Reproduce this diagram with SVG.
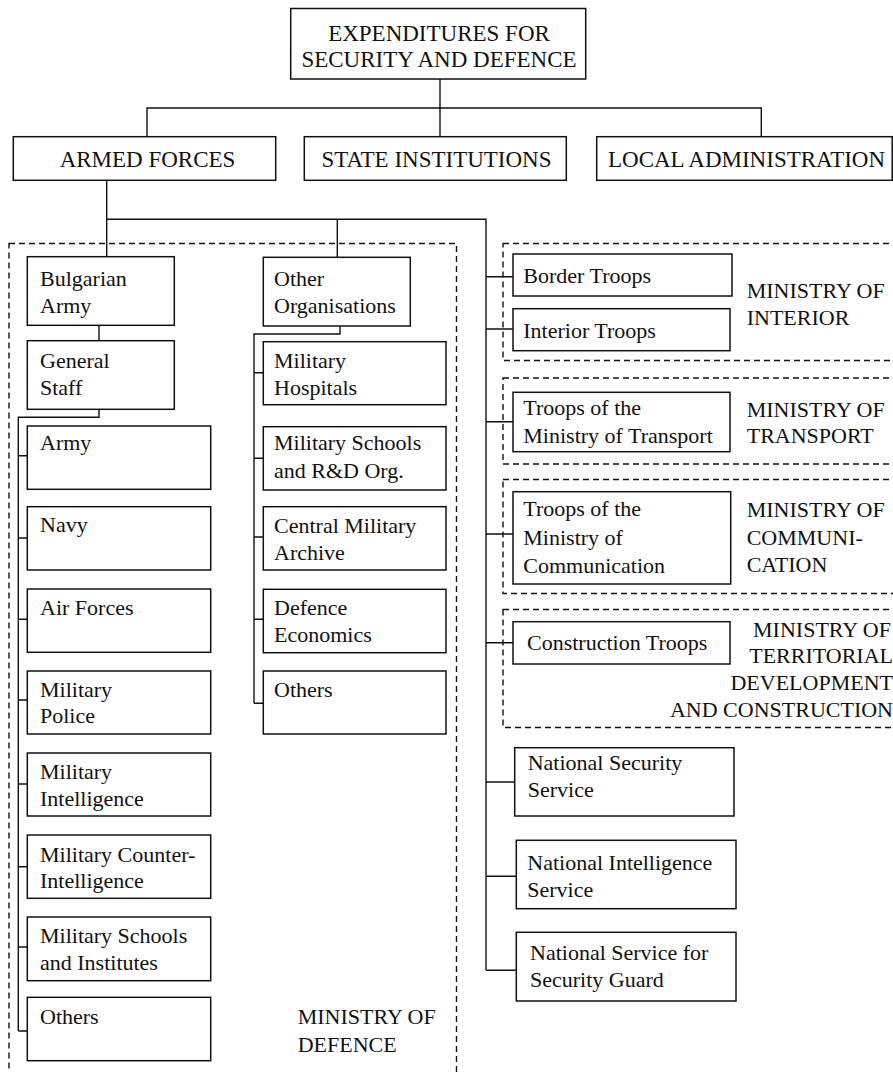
<svg xmlns="http://www.w3.org/2000/svg" width="893" height="1072" viewBox="0 0 893 1072">
<style>
  .box { fill: #fff; stroke: #111; stroke-width: 1.5; }
  .grp { fill: none; stroke: #111; stroke-width: 1.4; stroke-dasharray: 6 4; }
  .ln { fill: none; stroke: #111; stroke-width: 1.4; }
  text { font-family: "Liberation Serif", "Times New Roman", serif; font-size: 22px; fill: #111; }
  .big { font-size: 23px; }
  .c { text-anchor: middle; }
  .e { text-anchor: end; }
</style>
<rect width="893" height="1072" fill="#fff"/>

<!-- ministry groupings -->
<g id="groups">
  <rect class="grp" x="9" y="243.5" width="447.5" height="840"/>
  <rect class="grp" x="503" y="243.5" width="400" height="117"/>
  <rect class="grp" x="503" y="378" width="400" height="86"/>
  <rect class="grp" x="503" y="479.5" width="400" height="114"/>
  <rect class="grp" x="503" y="609.5" width="400" height="118"/>
</g>

<g id="connectors">
  <path class="ln" d="M440 79 V136.7 M147 136.7 V108 H761.3 V136.7"/>
  <path class="ln" d="M106.7 180.3 V256.7 M106.7 219.3 H486 V970.3 M337.3 219.3 V257.3"/>
  <path class="ln" d="M99 325.3 V340.7"/>
  <path class="ln" d="M99 409.3 V417.3 H18.3 V1031"/>
  <path class="ln" d="M18.3 455.7 H27.3 M18.3 538 H27.3 M18.3 619.3 H27.3 M18.3 700 H27.3 M18.3 784 H27.3 M18.3 866.7 H27.3 M18.3 947 H27.3 M18.3 1031 H27.3"/>
  <path class="ln" d="M340 326 V334 H254 V703.3"/>
  <path class="ln" d="M254 372.7 H263.3 M254 458.3 H263.3 M254 537 H263.3 M254 619.3 H263.3 M254 703.3 H263.3"/>
  <path class="ln" d="M486 276.7 H513 M486 329 H513 M486 421.7 H513 M486 534 H513 M486 642.7 H513 M486 782 H514.7 M486 876.3 H516.3 M486 970.3 H516.3"/>
</g>

<g id="n-root"><rect class="box" x="290.7" y="8.5" width="295" height="70.5"/><text class="c big" x="439" y="40.7">EXPENDITURES FOR</text><text class="c big" x="439" y="66.7">SECURITY AND DEFENCE</text></g>
<g id="n-armed"><rect class="box" x="13.3" y="136.7" width="262.4" height="43.6"/><text class="c big" x="147.5" y="166.7">ARMED FORCES</text></g>
<g id="n-state"><rect class="box" x="304.3" y="136.7" width="262" height="43.6"/><text class="c big" x="436.5" y="166.7">STATE INSTITUTIONS</text></g>
<g id="n-local"><rect class="box" x="596.7" y="136.7" width="295.5" height="43.6"/><text class="big" x="608" y="166.7">LOCAL ADMINISTRATION</text></g>

<g id="n-bulgarian-army"><rect class="box" x="27.3" y="256.7" width="147" height="68.6"/><text x="40" y="286">Bulgarian</text><text x="40" y="313.3">Army</text></g>
<g id="n-general-staff"><rect class="box" x="27.3" y="340.7" width="147" height="68.6"/><text x="40" y="367.7">General</text><text x="40" y="395">Staff</text></g>

<g id="n-army"><rect class="box" x="27.3" y="426" width="183.4" height="63.3"/><text x="40" y="450">Army</text></g>
<g id="n-navy"><rect class="box" x="27.3" y="506.7" width="183.4" height="63.3"/><text x="40" y="532.3">Navy</text></g>
<g id="n-air"><rect class="box" x="27.3" y="589" width="183.4" height="63.3"/><text x="40" y="615">Air Forces</text></g>
<g id="n-police"><rect class="box" x="27.3" y="671" width="183.4" height="63"/><text x="40" y="696.7">Military</text><text x="40" y="723.3">Police</text></g>
<g id="n-intel"><rect class="box" x="27.3" y="753" width="183.4" height="63"/><text x="40" y="779.3">Military</text><text x="40" y="805.7">Intelligence</text></g>
<g id="n-counter"><rect class="box" x="27.3" y="835" width="183.4" height="63.3"/><text x="40" y="861.7">Military Counter-</text><text x="40" y="888.3">Intelligence</text></g>
<g id="n-schools"><rect class="box" x="27.3" y="917" width="183.4" height="63.7"/><text x="40" y="943.3">Military Schools</text><text x="40" y="970">and Institutes</text></g>
<g id="n-others-left"><rect class="box" x="27.3" y="997.3" width="183.4" height="63.4"/><text x="40" y="1024">Others</text></g>

<g id="n-other-org"><rect class="box" x="263.3" y="257.3" width="147" height="68.7"/><text x="274" y="286">Other</text><text x="274" y="313.3">Organisations</text></g>
<g id="n-hospitals"><rect class="box" x="263.3" y="341.7" width="182.7" height="63"/><text x="274" y="368.3">Military</text><text x="274" y="395">Hospitals</text></g>
<g id="n-rd"><rect class="box" x="263.3" y="426.7" width="182.7" height="63.3"/><text x="274" y="450">Military Schools</text><text x="274" y="478.3">and R&amp;D Org.</text></g>
<g id="n-archive"><rect class="box" x="263.3" y="506.7" width="182.7" height="63.3"/><text x="274" y="533.3">Central Military</text><text x="274" y="560">Archive</text></g>
<g id="n-economics"><rect class="box" x="263.3" y="589.3" width="182.7" height="63.4"/><text x="274" y="615">Defence</text><text x="274" y="641.7">Economics</text></g>
<g id="n-others-mid"><rect class="box" x="263.3" y="671" width="182.7" height="63"/><text x="274" y="696.7">Others</text></g>

<g id="n-border"><rect class="box" x="513" y="254" width="219" height="42"/><text x="523.3" y="283.3">Border Troops</text></g>
<g id="n-interior"><rect class="box" x="513" y="308.7" width="217" height="42"/><text x="523.3" y="338.3">Interior Troops</text></g>
<g id="n-transport"><rect class="box" x="513" y="392.3" width="217" height="59.4"/><text x="523.3" y="415">Troops of the</text><text x="523.3" y="443.3">Ministry of Transport</text></g>
<g id="n-communication"><rect class="box" x="513" y="491.7" width="217.7" height="92.3"/><text x="523.3" y="516">Troops of the</text><text x="523.3" y="545">Ministry of</text><text x="523.3" y="573.3">Communication</text></g>
<g id="n-construction"><rect class="box" x="513" y="621.7" width="217" height="42.3"/><text x="527" y="650">Construction Troops</text></g>
<g id="n-nss"><rect class="box" x="514.7" y="747.7" width="219.3" height="68.3"/><text x="527.7" y="770">National Security</text><text x="527.7" y="796.7">Service</text></g>
<g id="n-nis"><rect class="box" x="516.3" y="840.3" width="219.7" height="68.4"/><text x="527.3" y="870">National Intelligence</text><text x="527.3" y="896.7">Service</text></g>
<g id="n-nssg"><rect class="box" x="516.3" y="932.3" width="219.7" height="68.7"/><text x="530" y="960">National Service for</text><text x="530" y="986.7">Security Guard</text></g>

<g id="labels">
  <text x="297.7" y="1024">MINISTRY OF</text><text x="297.7" y="1051.7">DEFENCE</text>
  <text x="746.7" y="298.3">MINISTRY OF</text><text x="746.7" y="325">INTERIOR</text>
  <text x="746.7" y="416.7">MINISTRY OF</text><text x="746.7" y="443.3">TRANSPORT</text>
  <text x="746.7" y="516.7">MINISTRY OF</text><text x="746.7" y="545">COMMUNI-</text><text x="746.7" y="571.7">CATION</text>
  <text class="e" x="891" y="637.3">MINISTRY OF</text><text class="e" x="893" y="663.3">TERRITORIAL</text><text class="e" x="893" y="690">DEVELOPMENT</text><text class="e" x="893" y="717.3">AND CONSTRUCTION</text>
</g>
</svg>
